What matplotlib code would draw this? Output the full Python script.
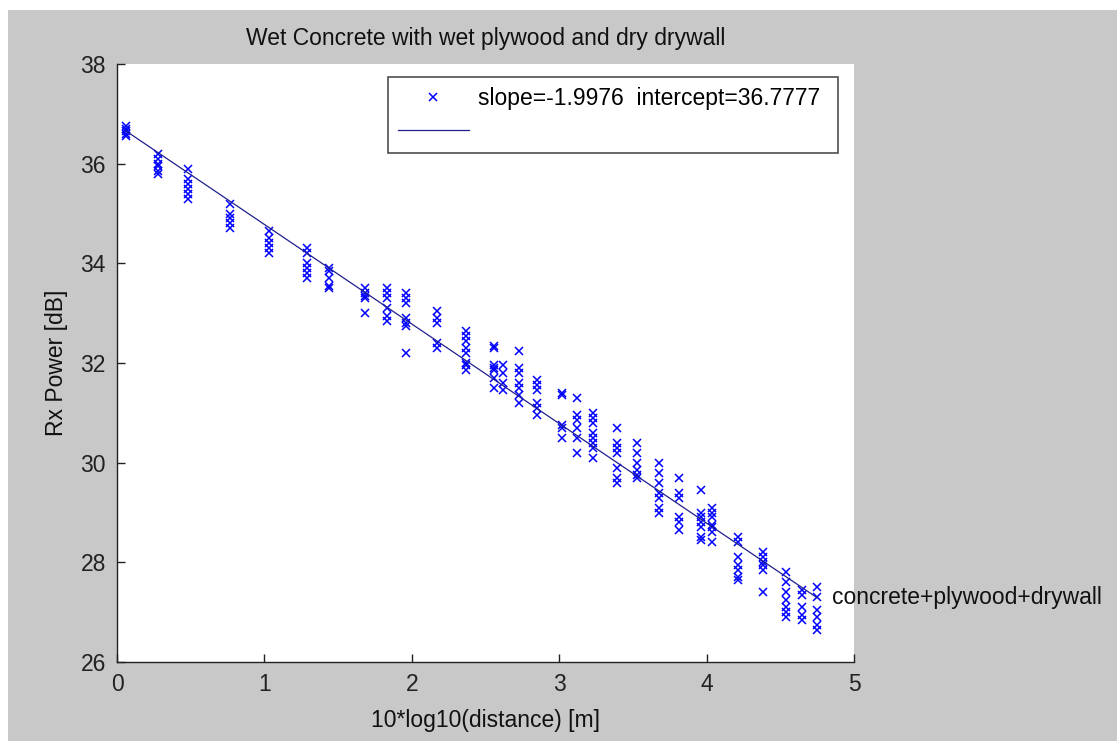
import numpy as np
import matplotlib
matplotlib.use("Agg")
import matplotlib.pyplot as plt
from matplotlib.patches import Rectangle

plt.rcParams['font.family'] = ['Liberation Sans', 'DejaVu Sans']

# Measurement positions, 10*log10(distance)
group_x = [0.06, 0.28, 0.48, 0.77, 1.03, 1.29, 1.44, 1.68, 1.83, 1.96,
           2.17, 2.37, 2.56, 2.62, 2.73, 2.85, 3.02, 3.12, 3.23, 3.39,
           3.53, 3.68, 3.81, 3.96, 4.04, 4.21, 4.38, 4.54, 4.65, 4.75]

# Received power samples at each position [dB]
group_power = [
    [36.75, 36.7, 36.65, 36.6, 36.55],
    [36.2, 36.1, 36.0, 35.95, 35.85, 35.8],
    [35.9, 35.7, 35.6, 35.5, 35.4, 35.3],
    [35.2, 35.0, 34.9, 34.8, 34.7],
    [34.65, 34.5, 34.4, 34.3, 34.2],
    [34.3, 34.2, 34.0, 33.9, 33.8, 33.7],
    [33.9, 33.85, 33.7, 33.55, 33.5],
    [33.5, 33.4, 33.35, 33.3, 33.0],
    [33.5, 33.4, 33.3, 33.1, 32.95, 32.85],
    [33.4, 33.3, 33.2, 32.9, 32.8, 32.75, 32.2],
    [33.05, 32.9, 32.8, 32.4, 32.3],
    [32.65, 32.55, 32.45, 32.3, 32.2, 32.0, 31.95, 31.85],
    [32.35, 32.3, 31.95, 31.9, 31.85, 31.7, 31.5],
    [31.95, 31.8, 31.6, 31.45],
    [32.25, 31.9, 31.8, 31.6, 31.5, 31.35, 31.2],
    [31.65, 31.55, 31.45, 31.2, 31.1, 30.95],
    [31.4, 31.35, 30.75, 30.7, 30.5],
    [31.3, 30.95, 30.85, 30.7, 30.5, 30.2],
    [31.0, 30.9, 30.8, 30.6, 30.5, 30.4, 30.3, 30.1],
    [30.7, 30.4, 30.3, 30.2, 29.9, 29.7, 29.6],
    [30.4, 30.2, 30.0, 29.85, 29.75, 29.7],
    [30.0, 29.8, 29.6, 29.4, 29.3, 29.1, 29.0],
    [29.7, 29.4, 29.3, 28.9, 28.8, 28.65],
    [29.45, 29.0, 28.9, 28.8, 28.7, 28.5, 28.45],
    [29.1, 29.0, 28.9, 28.75, 28.7, 28.6, 28.4],
    [28.5, 28.4, 28.1, 27.95, 27.85, 27.7, 27.65],
    [28.2, 28.1, 28.0, 27.95, 27.85, 27.4],
    [27.8, 27.6, 27.4, 27.25, 27.1, 27.0, 26.9],
    [27.45, 27.35, 27.1, 26.95, 26.85],
    [27.5, 27.3, 27.05, 26.9, 26.75, 26.65],
]

slope = -1.9976
intercept = 36.7777

title_text = "Wet Concrete with wet plywood and dry drywall"
x_label = "10*log10(distance) [m]"
y_label = "Rx Power [dB]"
curve_label = "concrete+plywood+drywall"
x_ticks = [0, 1, 2, 3, 4, 5]
y_ticks = [26, 28, 30, 32, 34, 36, 38]

dist = np.concatenate([[x] * len(p) for x, p in zip(group_x, group_power)])
power = np.concatenate(group_power)

fig = plt.figure(figsize=(11.17, 7.41), dpi=100, facecolor='white')
# grey window area with a thin white margin at top and left
fig.patches.append(Rectangle((8 / 1117, 0), 1, (741 - 10) / 741,
                             transform=fig.transFigure, facecolor='#c8c8c8',
                             edgecolor='none', zorder=-10))

ax = fig.add_axes([117 / 1117, 1 - 662 / 741, (854 - 117) / 1117, (662 - 64) / 741])
ax.set_facecolor('white')

fs = 16.5
marker_color = '#0000ff'
line_color = '#20208f'
text_color = '#111111'

pts, = ax.plot(dist, power, linestyle='none', marker='x', markersize=6.2,
               markeredgewidth=1.1, color=marker_color)
xfit = np.array([dist.min(), dist.max()])
fit, = ax.plot(xfit, intercept + slope * xfit, color=line_color, linewidth=0.9)

ax.text(dist.max() + 0.1, intercept + slope * dist.max(), curve_label,
        fontsize=fs, ha='left', va='center', color=text_color, clip_on=False)

ax.set_xlim(0, 5)
ax.set_ylim(26, 38)
ax.set_xticks(x_ticks)
ax.set_yticks(y_ticks)
ax.spines['top'].set_visible(False)
ax.spines['right'].set_visible(False)
for s in ('left', 'bottom'):
    ax.spines[s].set_linewidth(1.0)
    ax.spines[s].set_color('#222222')
ax.tick_params(direction='in', length=6, width=1.0, labelsize=fs,
               colors='#222222')
ax.tick_params(axis='y', pad=8)
ax.tick_params(axis='x', pad=8)

ax.set_title(title_text, fontsize=fs, pad=14, color=text_color)
ax.set_xlabel(x_label, fontsize=fs, labelpad=9, color=text_color)
ax.set_ylabel(y_label, fontsize=fs, labelpad=9, color=text_color)

leg_label = f"slope={slope:.4f}  intercept={intercept:.4f}"
leg = ax.legend([pts, fit], [leg_label, ''], loc='upper left',
                bbox_to_anchor=(0.368, 0.978, 0.61, 0.0), mode='expand',
                fontsize=fs, frameon=True, fancybox=False, borderpad=0.42,
                labelspacing=0.46, handlelength=3.1, handletextpad=0.4,
                borderaxespad=0)
leg.get_frame().set_edgecolor('#222222')
leg.get_frame().set_linewidth(1.2)

fig.savefig('out.png', dpi=100, facecolor=fig.get_facecolor())
